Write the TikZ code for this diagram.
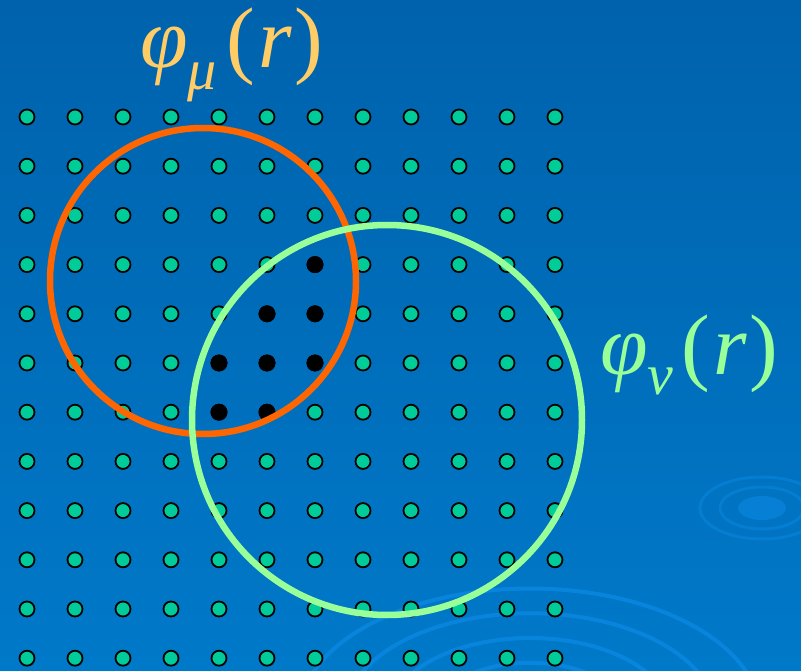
\documentclass[tikz,border=0pt]{standalone}
\usepackage{fontspec}
\setmainfont{Liberation Serif}
\usepackage{xcolor}
\usetikzlibrary{positioning}
\definecolor{BgTop}{HTML}{0062AC}
\definecolor{BgBottom}{HTML}{0079C9}
\definecolor{RippleBlue}{HTML}{0A88E2}
\definecolor{DotTeal}{HTML}{00CC99}
\definecolor{MuOrange}{HTML}{FF6600}
\definecolor{NuGreen}{HTML}{99FF99}
\definecolor{MuGold}{HTML}{FFCC66}

\begin{document}
\begin{tikzpicture}[x=1pt,y=-1pt,
          every node/.style={inner sep=0pt},
          gridpt/.style={circle,draw=black,line width=1.8pt,fill=DotTeal,minimum size=15pt},
          overlap/.style={circle,fill=black,minimum size=17pt},
          orbit/.style={line width=6.5pt},
          ripple/.style={RippleBlue,line width=4pt},
          lbl/.style={anchor=base west,font=\fontsize{86}{86}\selectfont}]
        \useasboundingbox (0,0) rectangle (801,671);
        \shade[top color=BgTop,bottom color=BgBottom] (0,0) rectangle (801,671);
        % ripples in the background
        \begin{scope}
          \clip (0,0) rectangle (801,671);
          \foreach \r in {95,140,185,230}
            \draw[ripple,opacity=0.8] (530,715) ellipse ({\r pt} and {0.55*\r pt});
          \fill[RippleBlue,opacity=0.6] (762,508) ellipse (24pt and 12pt);
          \foreach \r in {42,62}
            \draw[ripple,line width=3pt,opacity=0.5] (762,508) ellipse ({\r pt} and {0.5*\r pt});
        \end{scope}
        % sampling grid
        \foreach \i in {0,...,11}
          \foreach \j in {0,...,11}
            \node[gridpt] (d-\i-\j) at ({27+48*\i},{117+49.2*\j}) {};
        \foreach \i/\j in {6/3,5/4,6/4,4/5,5/5,6/5,4/6,5/6}
          \node[overlap] (b-\i-\j) at ({27+48*\i},{117+49.2*\j}) {};
        % the two orbitals
        \draw[orbit,MuOrange] (203,281) circle (153pt);
        \draw[orbit,NuGreen] (387,420) circle (195pt);
        \node[lbl,text=MuGold] (phimu) at (140,68)
          {\itshape φ\raisebox{-22pt}{\fontsize{58}{58}\selectfont μ}\hspace{10pt}\upshape(\hspace{3pt}\itshape r\hspace{3pt}\upshape)};
        \node[lbl,text=NuGreen] (phinu) at (600,374)
          {\itshape φ\raisebox{-20pt}{\fontsize{58}{58}\selectfont ν}\hspace{8pt}\upshape(\hspace{3pt}\itshape r\hspace{3pt}\upshape)};
      \end{tikzpicture}
\end{document}
